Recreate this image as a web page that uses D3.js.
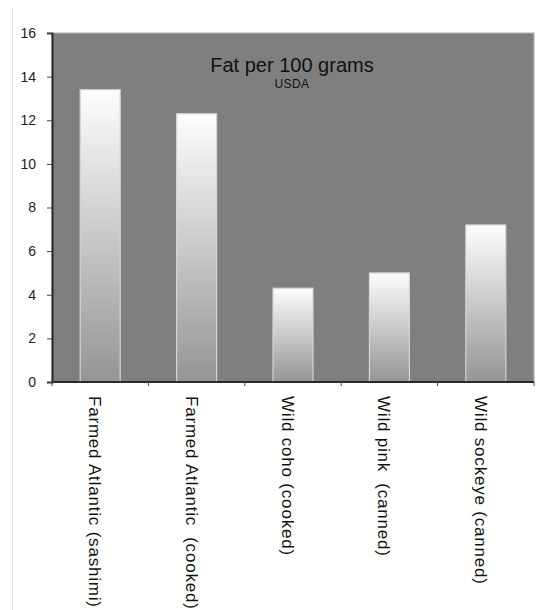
<!DOCTYPE html>
<html>
<head>
<meta charset="utf-8">
<script src="https://cdn.jsdelivr.net/npm/d3@7"></script>
<style>
  html, body { margin: 0; padding: 0; background: #fff; }
  svg { display: block; font-family: "Liberation Sans", Arial, sans-serif; }
</style>
</head>
<body>
<div id="chart"></div>
<script>
// Data
const categories = [
  "Farmed Atlantic (sashimi)",
  "Farmed Atlantic  (cooked)",
  "Wild coho (cooked)",
  "Wild pink  (canned)",
  "Wild sockeye (canned)"
];
const fatValues = [13.4, 12.3, 4.3, 5.0, 7.2];
const yTicks = [0, 2, 4, 6, 8, 10, 12, 14, 16];
const title = "Fat per 100 grams";
const subtitle = "USDA";

const width = 537, height = 610;
const margin = { top: 33, right: 3, bottom: 228, left: 52 };
const innerW = width - margin.left - margin.right;
const innerH = height - margin.top - margin.bottom;

const svg = d3.select("#chart").append("svg")
  .attr("width", width)
  .attr("height", height);

// faint page border on the left
svg.append("line")
  .attr("x1", 12.5).attr("x2", 12.5)
  .attr("y1", 8).attr("y2", height)
  .attr("stroke", "#dcdcdc");

const defs = svg.append("defs");
const grad = defs.append("linearGradient")
  .attr("id", "barGrad")
  .attr("x1", 0).attr("y1", 0).attr("x2", 0).attr("y2", 1);
grad.append("stop").attr("offset", "0%").attr("stop-color", "#fdfdfd");
grad.append("stop").attr("offset", "100%").attr("stop-color", "#959595");

const g = svg.append("g")
  .attr("transform", `translate(${margin.left},${margin.top})`);

const x = d3.scaleBand()
  .domain(categories)
  .range([0, innerW])
  .paddingInner(0.585)
  .paddingOuter(0.2925);

const y = d3.scaleLinear().domain([0, 16]).range([innerH, 0]);

// plot background
g.append("rect")
  .attr("x", 0).attr("y", 0)
  .attr("width", innerW).attr("height", innerH)
  .attr("fill", "#7f7f7f")
  .attr("stroke", "#b0b0b0")
  .attr("stroke-width", 1);

// Title
g.append("text")
  .attr("x", 240)
  .attr("y", 39)
  .attr("text-anchor", "middle")
  .style("font-size", "20px")
  .style("fill", "#111")
  .text(title);

g.append("text")
  .attr("x", 240)
  .attr("y", 55)
  .attr("text-anchor", "middle")
  .style("font-size", "12px")
  .style("letter-spacing", "0.4px")
  .style("fill", "#111")
  .text(subtitle);

// Bars
g.selectAll("rect.bar")
  .data(fatValues)
  .join("rect")
  .attr("class", "bar")
  .attr("x", (d, i) => x(categories[i]))
  .attr("y", d => y(d))
  .attr("width", x.bandwidth())
  .attr("height", d => innerH - y(d))
  .attr("fill", "url(#barGrad)")
  .attr("stroke", "#d4d4d4")
  .attr("stroke-width", 1.2);

// Y axis
const yAxis = g.append("g")
  .call(d3.axisLeft(y).tickValues(yTicks).tickSize(5).tickPadding(11))
  .style("font-family", "\"Liberation Sans\", Arial, sans-serif");
yAxis.select(".domain").attr("stroke", "#2a2a2a").attr("stroke-width", 2);
yAxis.selectAll(".tick line").attr("stroke", "#444");
yAxis.selectAll(".tick text").style("font-size", "14px").attr("fill", "#222");

// X axis: ticks at band boundaries
const bounds = categories.map(c => x(c) - x.step() * x.paddingInner() / 2);
bounds.push(innerW);
const xAxis = g.append("g").attr("transform", `translate(0,${innerH})`);
xAxis.append("line")
  .attr("x1", 0).attr("x2", innerW)
  .attr("y1", 0).attr("y2", 0)
  .attr("stroke", "#2a2a2a").attr("stroke-width", 2);
xAxis.selectAll("line.tk")
  .data(bounds)
  .join("line")
  .attr("class", "tk")
  .attr("x1", d => d).attr("x2", d => d)
  .attr("y1", 0).attr("y2", 4)
  .attr("stroke", "#444");

xAxis.selectAll("text.lbl")
  .data(categories)
  .join("text")
  .attr("class", "lbl")
  .attr("transform", d => `translate(${x(d) + x.bandwidth() / 2 - 5},${14}) rotate(90)`)
  .attr("dy", "0.35em")
  .style("font-size", "17px")
  .style("letter-spacing", "0.8px")
  .style("white-space", "pre")
  .style("fill", "#111")
  .text(d => d);
</script>
</body>
</html>
